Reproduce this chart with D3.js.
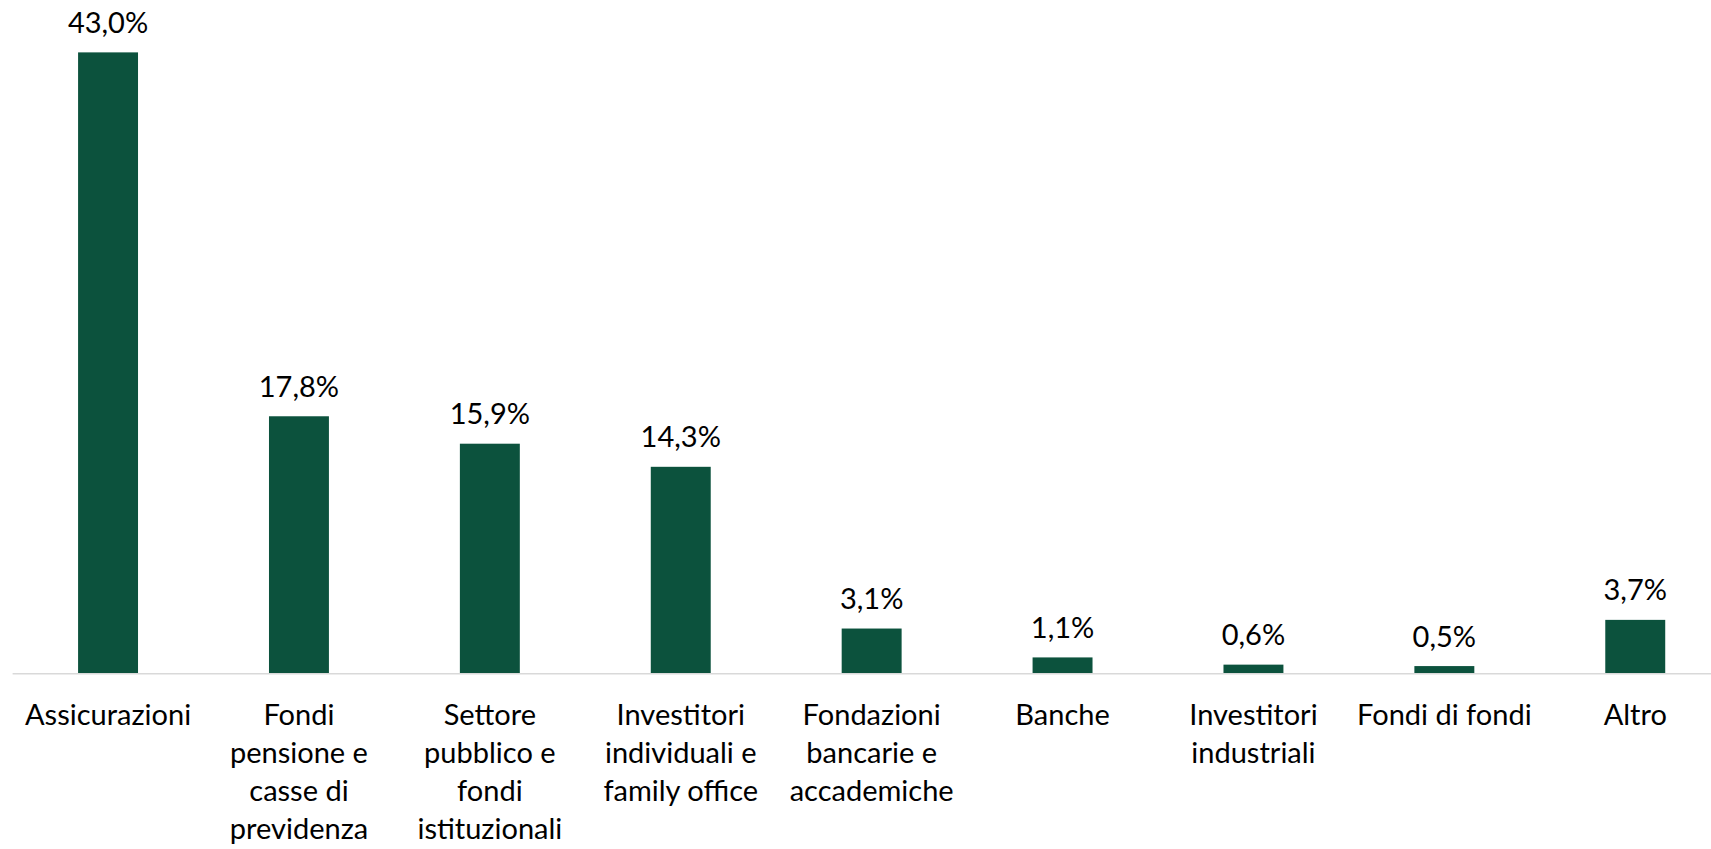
<!DOCTYPE html>
<html>
<head>
<meta charset="utf-8">
<script src="https://cdn.jsdelivr.net/npm/d3@7"></script>
<style>
  html, body { margin: 0; padding: 0; background: #fff; }
  svg { display: block; }
  text { font-family: Lato, "Noto Sans", sans-serif; fill: #000; }
</style>
</head>
<body>
<svg id="chart" width="1711" height="849"></svg>
<script>
const categories = ["Assicurazioni", "Fondi pensione e casse di previdenza", "Settore pubblico e fondi istituzionali", "Investitori individuali e family office", "Fondazioni bancarie e accademiche", "Banche", "Investitori industriali", "Fondi di fondi", "Altro"];
const categoryLines = [
  ["Assicurazioni"],
  ["Fondi", "pensione e", "casse di", "previdenza"],
  ["Settore", "pubblico e", "fondi", "istituzionali"],
  ["Investitori", "individuali e", "family office"],
  ["Fondazioni", "bancarie e", "accademiche"],
  ["Banche"],
  ["Investitori", "industriali"],
  ["Fondi di fondi"],
  ["Altro"]
];
const values = [43.0, 17.8, 15.9, 14.3, 3.1, 1.1, 0.6, 0.5, 3.7];

const svg = d3.select("#chart");
const baseY = 673.3;
const pxPerUnit = 14.44;

const x = d3.scaleBand()
  .domain(categories)
  .range([12.6, 12.6 + 9 * 190.9])
  .paddingInner(0.686)
  .paddingOuter(0.343);

const y = d3.scaleLinear()
  .domain([0, 45])
  .range([baseY, baseY - 45 * pxPerUnit]);

const itFormat = d3.formatLocale({decimal: ",", thousands: ".", grouping: [3], currency: ["€", ""]}).format(".1f");

// bars
svg.append("g").selectAll("rect")
  .data(values)
  .join("rect")
  .attr("x", (d, i) => x(categories[i]))
  .attr("width", x.bandwidth())
  .attr("y", d => y(d))
  .attr("height", d => y(0) - y(d))
  .attr("fill", "#0c523d");

// value labels
svg.append("g").selectAll("text")
  .data(values)
  .join("text")
  .attr("x", (d, i) => x(categories[i]) + x.bandwidth() / 2)
  .attr("y", d => y(d) - 19.5)
  .attr("text-anchor", "middle")
  .style("font-size", "29px")
  .text(d => itFormat(d) + "%");

// axis
const axis = svg.append("g")
  .attr("transform", `translate(0,${baseY})`)
  .call(d3.axisBottom(x).tickSize(0).tickSizeOuter(0));
axis.select(".domain").remove();
axis.selectAll(".tick text").remove();
axis.selectAll(".tick").each(function(d, i) {
  const t = d3.select(this).append("text")
    .attr("text-anchor", "middle")
    .style("font-size", "29px")
    .style("font-family", "Lato, 'Noto Sans', sans-serif")
    .attr("fill", "#000");
  categoryLines[i].forEach((line, j) => {
    t.append("tspan").attr("x", 0).attr("y", 52 + j * 38).text(line);
  });
});

svg.append("line")
  .attr("x1", 12.6).attr("x2", 1711)
  .attr("y1", baseY + 0.5).attr("y2", baseY + 0.5)
  .attr("stroke", "#d9d9d9")
  .attr("stroke-width", 1.5);
</script>
</body>
</html>
